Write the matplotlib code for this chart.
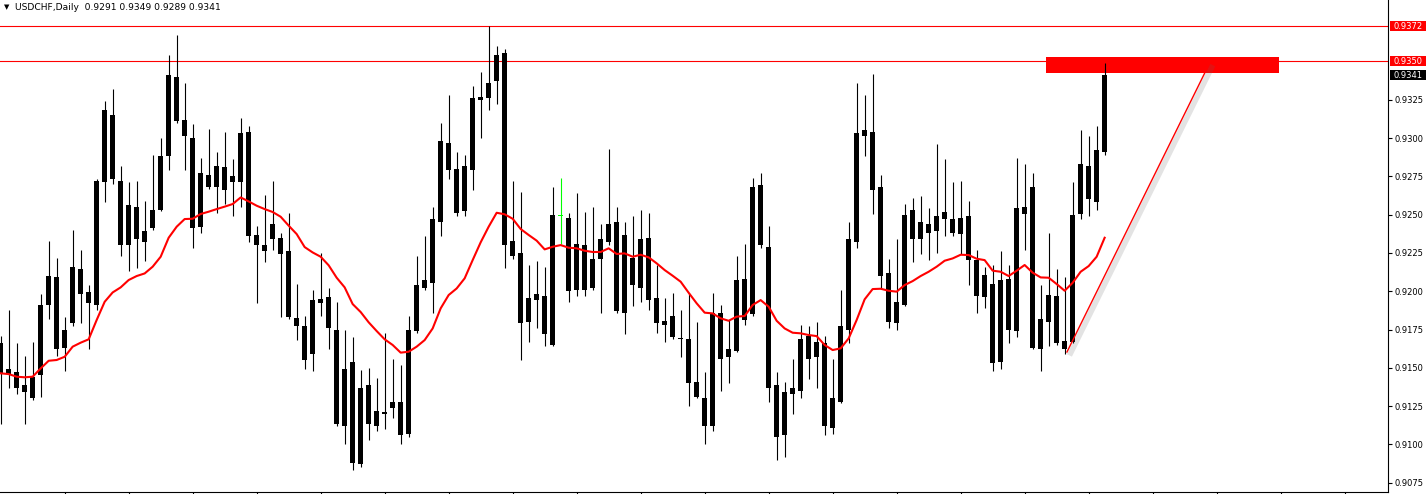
"""USDCHF daily candlestick chart with moving average, levels and trend line."""

import matplotlib

matplotlib.use("Agg")
import matplotlib.patheffects as pe
import matplotlib.pyplot as plt
import numpy as np
from matplotlib.patches import Rectangle
from matplotlib.transforms import blended_transform_factory

SYMBOL = "USDCHF,Daily"

opens = [
    0.9166, 0.9146, 0.9147, 0.9139, 0.9130, 0.9145, 0.9191, 0.9209, 0.9163, 0.9179,
    0.92145, 0.91995, 0.9191, 0.9271, 0.9315, 0.9272, 0.9230, 0.9255, 0.9232, 0.9241,
    0.9253, 0.9288, 0.9340, 0.9312, 0.9300, 0.9242, 0.9276, 0.9268, 0.9281, 0.92715,
    0.9271, 0.9304, 0.9237, 0.9230, 0.9234, 0.9235, 0.9226, 0.91825, 0.9177, 0.9159,
    0.9195, 0.9196, 0.9175, 0.9112, 0.9154, 0.9087, 0.9139, 0.9112, 0.9121, 0.9124,
    0.91277, 0.9107, 0.9174, 0.9202, 0.92055, 0.9245, 0.9297, 0.9280, 0.92525, 0.9279,
    0.9325, 0.9326, 0.9337, 0.93555, 0.9233, 0.9225, 0.9180, 0.91945, 0.9197, 0.9165,
    0.9249, 0.9248, 0.9201, 0.9230, 0.9202, 0.9221, 0.9232, 0.9245, 0.9186, 0.9222,
    0.9202, 0.9235, 0.91955, 0.91805, 0.9184, 0.9169, 0.9169, 0.9141, 0.9130, 0.9112,
    0.9186, 0.9157, 0.9161, 0.9208, 0.9185, 0.9269, 0.9229, 0.9139, 0.9106, 0.9133,
    0.9135, 0.9171, 0.9157, 0.9166, 0.9111, 0.9128, 0.9175, 0.9232, 0.93015, 0.9304,
    0.9268, 0.9212, 0.9179, 0.9191, 0.9253, 0.9234, 0.9244, 0.92395, 0.9247, 0.9247,
    0.92375, 0.9249, 0.92206, 0.9196, 0.9205, 0.9154, 0.9208, 0.9174, 0.9255, 0.9268,
    0.9162, 0.9180, 0.9197, 0.91675, 0.9167, 0.92506, 0.9282, 0.9258, 0.9291,
]
highs = [
    0.9171, 0.9188, 0.9166, 0.9158, 0.9167, 0.9198, 0.9233, 0.9222, 0.9183, 0.9240,
    0.9227, 0.9204, 0.9273, 0.9324, 0.9332, 0.9282, 0.92715, 0.9272, 0.9259, 0.9289,
    0.9300, 0.9354, 0.9367, 0.9336, 0.9309, 0.9287, 0.9306, 0.9291, 0.9304, 0.9286,
    0.9313, 0.9308, 0.92425, 0.9263, 0.9272, 0.9238, 0.9251, 0.9205, 0.9184, 0.9201,
    0.9225, 0.9202, 0.9193, 0.9175, 0.9170, 0.91485, 0.9150, 0.91435, 0.9173, 0.9156,
    0.9152, 0.9184, 0.9223, 0.9236, 0.9255, 0.9310, 0.9328, 0.9291, 0.9289, 0.9334,
    0.9343, 0.9373, 0.9360, 0.9358, 0.9272, 0.9265, 0.9217, 0.9220, 0.9216, 0.9268,
    0.9274, 0.9251, 0.9264, 0.9252, 0.9255, 0.9244, 0.9293, 0.9255, 0.9245, 0.9249,
    0.9253, 0.9251, 0.9217, 0.91955, 0.9199, 0.9188, 0.9199, 0.9180, 0.9147, 0.9199,
    0.9191, 0.9181, 0.9223, 0.9231, 0.9274, 0.9277, 0.92425, 0.9147, 0.9141, 0.9156,
    0.9178, 0.9177, 0.9180, 0.9171, 0.9156, 0.9201, 0.9245, 0.9336, 0.9328, 0.9342,
    0.9276, 0.9221, 0.9234, 0.9257, 0.9261, 0.9262, 0.9254, 0.9296, 0.9286, 0.9271,
    0.9272, 0.9259, 0.9227, 0.9216, 0.9217, 0.9226, 0.9217, 0.9287, 0.9283, 0.9277,
    0.9204, 0.9238, 0.92145, 0.9209, 0.9271, 0.9305, 0.9301, 0.9308, 0.9349,
]
lows = [
    0.9113, 0.9137, 0.9133, 0.9113, 0.9129, 0.9131, 0.9182, 0.9158, 0.9148, 0.9177,
    0.9179, 0.9162, 0.9188, 0.9258, 0.9270, 0.9223, 0.9213, 0.9215, 0.9220, 0.9240,
    0.92525, 0.9279, 0.9310, 0.9279, 0.9228, 0.9238, 0.9267, 0.9251, 0.9257, 0.9249,
    0.9255, 0.9232, 0.91925, 0.9219, 0.9227, 0.9183, 0.9182, 0.9168, 0.9149, 0.9148,
    0.9184, 0.9162, 0.9112, 0.9100, 0.9083, 0.9085, 0.9103, 0.9109, 0.9110, 0.9117,
    0.9100, 0.9105, 0.91725, 0.9201, 0.91855, 0.9236, 0.9273, 0.9249, 0.9249, 0.9266,
    0.9300, 0.93185, 0.9322, 0.9215, 0.9221, 0.9155, 0.9167, 0.9176, 0.9164, 0.9164,
    0.9231, 0.9193, 0.9197, 0.9197, 0.9201, 0.9186, 0.9230, 0.9186, 0.9172, 0.91905,
    0.9193, 0.9188, 0.9173, 0.9167, 0.9169, 0.9157, 0.9125, 0.9130, 0.9100, 0.9109,
    0.9135, 0.9140, 0.9160, 0.9178, 0.9184, 0.9228, 0.9128, 0.9090, 0.9092, 0.9120,
    0.9130, 0.9143, 0.9137, 0.9106, 0.9107, 0.9127, 0.9166, 0.9228, 0.9288, 0.92506,
    0.9202, 0.9176, 0.9175, 0.91905, 0.9219, 0.92245, 0.92206, 0.9225, 0.9236, 0.9236,
    0.92245, 0.9204, 0.9186, 0.9189, 0.9148, 0.91495, 0.9166, 0.9170, 0.9227, 0.9162,
    0.9148, 0.9164, 0.9165, 0.9159, 0.9166, 0.9247, 0.9249, 0.9253, 0.9289,
]
closes = [
    0.9146, 0.9149, 0.9137, 0.9134, 0.9144, 0.9191, 0.9210, 0.9162, 0.9175, 0.9216,
    0.9198, 0.91925, 0.9272, 0.9318, 0.9273, 0.9230, 0.9256, 0.9234, 0.9239, 0.9253,
    0.9288, 0.9341, 0.9311, 0.9301, 0.9241, 0.9277, 0.9268, 0.9282, 0.9266, 0.9275,
    0.9303, 0.9236, 0.9230, 0.9226, 0.9244, 0.92245, 0.9183, 0.91775, 0.9155, 0.9194,
    0.91925, 0.9176, 0.9113, 0.9149, 0.9088, 0.9137, 0.9113, 0.9122, 0.9120, 0.9128,
    0.9106, 0.9175, 0.9204, 0.9207, 0.9247, 0.9298, 0.9279, 0.9251, 0.9282, 0.9326,
    0.9327, 0.9336, 0.9354, 0.9230, 0.9223, 0.9179, 0.91955, 0.9198, 0.9172, 0.9250,
    0.9249, 0.9200, 0.9231, 0.9201, 0.9221, 0.9234, 0.9244, 0.9187, 0.9237, 0.9204,
    0.9234, 0.91945, 0.9179, 0.9178, 0.9170, 0.91685, 0.9140, 0.9131, 0.9112, 0.9186,
    0.9156, 0.9162, 0.9207, 0.9181, 0.9268, 0.9230, 0.9137, 0.9105, 0.9134, 0.9137,
    0.9169, 0.9156, 0.9167, 0.9112, 0.9130, 0.9177, 0.9234, 0.9303, 0.9305, 0.9266,
    0.9210, 0.9180, 0.9193, 0.9250, 0.9234, 0.9245, 0.9238, 0.9249, 0.9252, 0.9238,
    0.9248, 0.92206, 0.9197, 0.92106, 0.9153, 0.9207, 0.9175, 0.9254, 0.92506, 0.9163,
    0.9182, 0.91975, 0.9166, 0.9162, 0.9250, 0.9283, 0.9260, 0.9292, 0.9341,
]
moving_avg = [
    0.91464, 0.91459, 0.91442, 0.91438, 0.91442, 0.91496, 0.91546, 0.91551, 0.91572, 0.91638,
    0.91664, 0.91686, 0.91812, 0.91931, 0.91992, 0.92025, 0.92073, 0.92099, 0.92116, 0.92160,
    0.92225, 0.92349, 0.92421, 0.92471, 0.92473, 0.92504, 0.92519, 0.92536, 0.92552, 0.92569,
    0.92612, 0.92586, 0.92558, 0.92536, 0.92517, 0.92486, 0.92428, 0.92373, 0.92288, 0.92253,
    0.92225, 0.92169, 0.92088, 0.92025, 0.91916, 0.91864, 0.91797, 0.91740, 0.91686, 0.91649,
    0.91599, 0.91605, 0.91638, 0.91681, 0.91757, 0.91888, 0.91975, 0.92018, 0.92084, 0.92203,
    0.92319, 0.92421, 0.92512, 0.92502, 0.92473, 0.92406, 0.92367, 0.92330, 0.92273, 0.92290,
    0.92301, 0.92284, 0.92280, 0.92264, 0.92256, 0.92256, 0.92280, 0.92243, 0.92247, 0.92225,
    0.92238, 0.92221, 0.92182, 0.92138, 0.92101, 0.92062, 0.91990, 0.91921, 0.91860, 0.91855,
    0.91823, 0.91807, 0.91834, 0.91838, 0.91910, 0.91942, 0.91899, 0.91807, 0.91757, 0.91729,
    0.91725, 0.91714, 0.91707, 0.91649, 0.91616, 0.91627, 0.91692, 0.91812, 0.91947, 0.92014,
    0.92016, 0.92003, 0.91997, 0.92040, 0.92066, 0.92099, 0.92127, 0.92160, 0.92199, 0.92214,
    0.92238, 0.92236, 0.92212, 0.92203, 0.92134, 0.92127, 0.92099, 0.92134, 0.92171, 0.92121,
    0.92090, 0.92088, 0.92047, 0.92003, 0.92055, 0.92127, 0.92164, 0.92225, 0.92349,
]

level_prices = [0.93728, 0.9350]
level_labels = ["0.9372", "0.9350"]
zone_start, zone_end = 130.7, 159.8
zone_low, zone_high = 0.93426, 0.93529
trend_x = [133.25, 151.17]
trend_y = [0.91599, 0.93494]
price_ticks = [0.9075, 0.9100, 0.9125, 0.9150, 0.9175, 0.9200,
               0.9225, 0.9250, 0.9275, 0.9300, 0.9325]

RED = "#ff0000"
W, H = 1427, 494

fig = plt.figure(figsize=(W / 100, H / 100), dpi=100)
fig.patch.set_facecolor("white")
ax = fig.add_axes([0, 2.3 / H, 1388 / W, 491.7 / H])
ax.set_xlim(-0.084, 173.42)
ax.set_ylim(0.906913, 0.939008)

x = np.arange(len(opens))
o = np.array(opens)
c = np.array(closes)

# zone and horizontal levels sit behind the candles
ax.add_patch(Rectangle((zone_start, zone_low), zone_end - zone_start, zone_high - zone_low,
                       facecolor=RED, edgecolor="none", zorder=1))
for level in level_prices:
    ax.axhline(level, color=RED, lw=0.8, zorder=1.5)

colors = ["#00ff00" if op == cl else "black" for op, cl in zip(opens, closes)]
ax.vlines(x, lows, highs, colors=colors, lw=0.8, zorder=3)
body_low = np.minimum(o, c)
body_h = np.maximum(np.abs(o - c), 0.00007)
ax.bar(x, body_h, bottom=body_low, width=0.62, color=colors, linewidth=0, zorder=3)

ax.plot(x, moving_avg, color=RED, lw=1.5, zorder=4)

ax.plot(trend_x, trend_y, color=RED, lw=1.0, zorder=5, solid_capstyle="butt",
        path_effects=[pe.SimpleLineShadow(offset=(2, -2), shadow_color="0.4",
                                          alpha=0.18, linewidth=4),
                      pe.Normal()])

for side in ("top", "left"):
    ax.spines[side].set_visible(False)
for side in ("right", "bottom"):
    ax.spines[side].set_linewidth(0.8)
    ax.spines[side].set_color("black")

ax.yaxis.tick_right()
ax.set_yticks(price_ticks)
ax.set_yticklabels([f"{p:.4f}" for p in price_ticks])
ax.tick_params(axis="y", length=3, width=0.8, pad=2, labelsize=6, colors="black")
ax.set_xticks(np.arange(8, 174, 8))
ax.set_xticklabels([])
ax.tick_params(axis="x", length=3, width=0.8, direction="out")

# price tags on the right scale
trans = blended_transform_factory(fig.transFigure, ax.transData)
tag_h = 10 / 15320
tags = list(zip(level_prices, level_labels, [RED, RED]))
tags.append((closes[-1], f"{closes[-1]:.4f}", "black"))
for price, text, face in tags:
    ax.add_patch(Rectangle((1390 / W, price - tag_h / 2), 36 / W, tag_h, transform=trans,
                           facecolor=face, edgecolor="none", clip_on=False, zorder=6))
    ax.text(1408 / W, price, text, transform=trans, ha="center", va="center",
            color="white", fontsize=6, zorder=7, clip_on=False)

title = f"{SYMBOL}  {opens[-1]:.4f} {highs[-1]:.4f} {lows[-1]:.4f} {closes[-1]:.4f}"
fig.text(4 / W, 1 - 7 / H, "\u25bc", fontsize=5, va="center", ha="left")
fig.text(15 / W, 1 - 7 / H, title, fontsize=6.6, va="center", ha="left")

fig.savefig("out.png", dpi=100)
